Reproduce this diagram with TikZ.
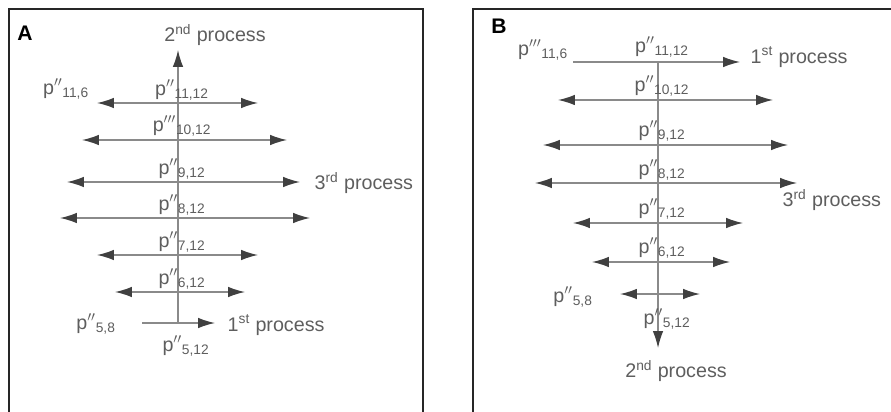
\documentclass[tikz,border=0pt]{standalone}
\usepackage{fontspec}
\setmainfont{Liberation Sans}
\usepackage{tikz}
\usetikzlibrary{arrows.meta}

\definecolor{linegray}{HTML}{8A8A8A}
\definecolor{textgray}{HTML}{5E5E5E}
\newcommand{\pp}[2]{p$^{#1}$\textsubscript{#2}}

\begin{document}
\begin{tikzpicture}[x=0.025cm,y=-0.025cm,
  >={Latex[length=4.2mm,width=2.6mm,color=black!75]},
  arr/.style={draw=linegray,line width=0.9pt},
  lbl/.style={text=textgray,font=\fontsize{14}{16}\selectfont,inner sep=1pt},
  panel/.style={draw=black!85,line width=2pt}]
\clip (0,0) rectangle (891,412);
\useasboundingbox (0,0) rectangle (891,412);

% panel A
\draw[panel] (9,430) -- (9,9) -- (423,9) -- (423,430);
\node[font=\fontsize{15}{17}\selectfont\bfseries] (la) at (25,33) {A};

\coordinate (a0) at (178,323);
\coordinate (atop) at (178,50);
\draw[arr,->] (a0) -- (atop);
\node[lbl] (a2nd) at (215,35) {2\textsuperscript{nd} process};

\coordinate (a1l) at (97,103);  \coordinate (a1r) at (258,103);
\coordinate (a2l) at (82,140);  \coordinate (a2r) at (287,140);
\coordinate (a3l) at (67,182);  \coordinate (a3r) at (300,182);
\coordinate (a4l) at (60,218);  \coordinate (a4r) at (310,218);
\coordinate (a5l) at (97,255);  \coordinate (a5r) at (258,255);
\coordinate (a6l) at (115,292); \coordinate (a6r) at (245,292);
\coordinate (a7l) at (142,323); \coordinate (a7r) at (215,323);
\foreach \i in {1,...,6}
  \draw[arr,<->] (a\i l) -- (a\i r);
\draw[arr,->] (a7l) -- (a7r);

\node[lbl] (pa1) at (182,90)  {\pp{\prime\prime}{11,12}};
\node[lbl] (pa2) at (182,126) {\pp{\prime\prime\prime}{10,12}};
\node[lbl] (pa3) at (182,169) {\pp{\prime\prime}{9,12}};
\node[lbl] (pa4) at (182,205) {\pp{\prime\prime}{8,12}};
\node[lbl] (pa5) at (182,242) {\pp{\prime\prime}{7,12}};
\node[lbl] (pa6) at (182,279) {\pp{\prime\prime}{6,12}};
\node[lbl] (pa7) at (186,346) {\pp{\prime\prime}{5,12}};
\node[lbl] (pa116) at (66,89) {\pp{\prime\prime}{11,6}};
\node[lbl] (pa58) at (96,324) {\pp{\prime\prime}{5,8}};
\node[lbl,anchor=west] (a3rd) at (313,183) {3\textsuperscript{rd} process};
\node[lbl,anchor=west] (a1st) at (226,325) {1\textsuperscript{st} process};

% panel B
\draw[panel] (473,430) -- (473,9) -- (900,9);
\node[font=\fontsize{15}{17}\selectfont\bfseries] (lb) at (499,26) {B};

\coordinate (b0) at (658,62);
\coordinate (bbot) at (658,348);
\draw[arr,->] (b0) -- (bbot);
\node[lbl] (b2nd) at (676,371) {2\textsuperscript{nd} process};

\coordinate (b1l) at (573,62);  \coordinate (b1r) at (740,62);
\coordinate (b2l) at (558,100); \coordinate (b2r) at (773,100);
\coordinate (b3l) at (543,145); \coordinate (b3r) at (788,145);
\coordinate (b4l) at (535,183); \coordinate (b4r) at (797,183);
\coordinate (b5l) at (573,223); \coordinate (b5r) at (743,223);
\coordinate (b6l) at (592,262); \coordinate (b6r) at (730,262);
\coordinate (b7l) at (620,294); \coordinate (b7r) at (700,294);
\draw[arr,->] (b1l) -- (b1r);
\foreach \i in {2,...,7}
  \draw[arr,<->] (b\i l) -- (b\i r);

\node[lbl] (pb1) at (662,47)  {\pp{\prime\prime}{11,12}};
\node[lbl] (pb2) at (662,86)  {\pp{\prime\prime}{10,12}};
\node[lbl] (pb3) at (662,131) {\pp{\prime\prime}{9,12}};
\node[lbl] (pb4) at (662,170) {\pp{\prime\prime}{8,12}};
\node[lbl] (pb5) at (662,209) {\pp{\prime\prime}{7,12}};
\node[lbl] (pb6) at (662,248) {\pp{\prime\prime}{6,12}};
\node[lbl] (pb7) at (667,319) {\pp{\prime\prime}{5,12}};
\node[lbl] (pb116) at (543,50) {\pp{\prime\prime\prime}{11,6}};
\node[lbl] (pb58) at (573,297) {\pp{\prime\prime}{5,8}};
\node[lbl,anchor=west] (b1st) at (749,57) {1\textsuperscript{st} process};
\node[lbl,anchor=west] (b3rd) at (781,200) {3\textsuperscript{rd} process};
\end{tikzpicture}
\end{document}
